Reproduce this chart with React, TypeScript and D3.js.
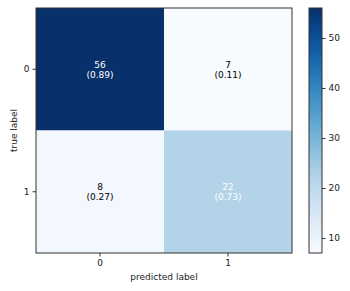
import { useEffect, useRef } from "react";
import * as d3 from "d3";

// Matrice de confusion
const CLASSES = ["0", "1"];
const COUNTS = [
  [56, 7],
  [8, 22],
];
const RATIOS = [
  ["0.89", "0.11"],
  ["0.27", "0.73"],
];
// cellules avec texte blanc
const WHITE_TEXT = [
  [true, false],
  [false, true],
];
const CBAR_TICKS = [10, 20, 30, 40, 50];

const WIDTH = 350;
const HEIGHT = 291;

const App = () => {
  const svgRef = useRef<SVGSVGElement>(null);

  useEffect(() => {
    if (!svgRef.current) return;
    const svg = d3.select(svgRef.current);
    svg.selectAll("*").remove();

    const margin = { top: 8, left: 36 };
    const innerWidth = 256;
    const innerHeight = 245;
    const font = "DejaVu Sans, sans-serif";
    const fs = "9px";

    const vmin = d3.min(COUNTS.flat())!;
    const vmax = d3.max(COUNTS.flat())!;
    const color = d3.scaleSequential(d3.interpolateBlues).domain([vmin, vmax]);

    const x = d3.scaleBand().domain(CLASSES).range([0, innerWidth]);
    const y = d3.scaleBand().domain(CLASSES).range([0, innerHeight]);

    const g = svg.append("g").attr("transform", `translate(${margin.left},${margin.top})`);

    // Cellules
    COUNTS.forEach((row, i) => {
      row.forEach((v, j) => {
        g.append("rect")
          .attr("x", x(CLASSES[j])!)
          .attr("y", y(CLASSES[i])!)
          .attr("width", x.bandwidth())
          .attr("height", y.bandwidth())
          .attr("fill", color(v));

        const cx = x(CLASSES[j])! + x.bandwidth() / 2;
        const cy = y(CLASSES[i])! + y.bandwidth() / 2;
        const fill = WHITE_TEXT[i][j] ? "#ffffff" : "#000000";
        const t = g.append("text")
          .attr("x", cx)
          .attr("text-anchor", "middle")
          .style("font-family", font)
          .style("font-size", fs)
          .attr("fill", fill);
        t.append("tspan").attr("x", cx).attr("y", cy - 1.5).text(v);
        t.append("tspan").attr("x", cx).attr("y", cy + 8.5).text(`(${RATIOS[i][j]})`);
      });
    });

    // Cadre
    g.append("rect")
      .attr("width", innerWidth)
      .attr("height", innerHeight)
      .attr("fill", "none")
      .attr("stroke", "#333")
      .attr("stroke-width", 1);

    // Axes
    const xAxis = g.append("g")
      .attr("transform", `translate(0,${innerHeight})`)
      .call(d3.axisBottom(x).tickSize(3.5).tickPadding(3));
    const yAxis = g.append("g").call(d3.axisLeft(y).tickSize(3.5).tickPadding(3));
    [xAxis, yAxis].forEach((a) => {
      a.select(".domain").remove();
      a.selectAll("line").attr("stroke", "#333");
      a.selectAll("text")
        .style("font-family", font)
        .style("font-size", fs)
        .attr("fill", "#222");
    });

    svg.append("text")
      .attr("x", margin.left + innerWidth / 2)
      .attr("y", 280)
      .attr("text-anchor", "middle")
      .style("font-family", font)
      .style("font-size", fs)
      .attr("fill", "#222")
      .text("predicted label");

    svg.append("text")
      .attr("transform", `translate(17,${margin.top + innerHeight / 2}) rotate(-90)`)
      .attr("text-anchor", "middle")
      .style("font-family", font)
      .style("font-size", fs)
      .attr("fill", "#222")
      .text("true label");

    // Barre de couleur
    const cbX = 309;
    const cbW = 13;
    const cbScale = d3.scaleLinear().domain([vmin, vmax]).range([margin.top + innerHeight, margin.top]);
    const grad = svg.append("defs").append("linearGradient")
      .attr("id", "cbar")
      .attr("x1", 0).attr("y1", 1).attr("x2", 0).attr("y2", 0);
    d3.range(0, 1.0001, 0.05).forEach((s) => {
      grad.append("stop")
        .attr("offset", s)
        .attr("stop-color", d3.interpolateBlues(s));
    });
    svg.append("rect")
      .attr("x", cbX)
      .attr("y", margin.top)
      .attr("width", cbW)
      .attr("height", innerHeight)
      .attr("fill", "url(#cbar)")
      .attr("stroke", "#333")
      .attr("stroke-width", 1);

    const cbAxis = svg.append("g")
      .attr("transform", `translate(${cbX + cbW},0)`)
      .call(d3.axisRight(cbScale).tickValues(CBAR_TICKS).tickSize(3.5).tickPadding(3));
    cbAxis.select(".domain").remove();
    cbAxis.selectAll("line").attr("stroke", "#333");
    cbAxis.selectAll("text")
      .style("font-family", font)
      .style("font-size", fs)
      .attr("fill", "#222");
  }, []);

  return (
    <svg
      ref={svgRef}
      width={WIDTH}
      height={HEIGHT}
      style={{ position: "absolute", left: 0, top: 0, background: "#fff" }}
    />
  );
};

export default App;
